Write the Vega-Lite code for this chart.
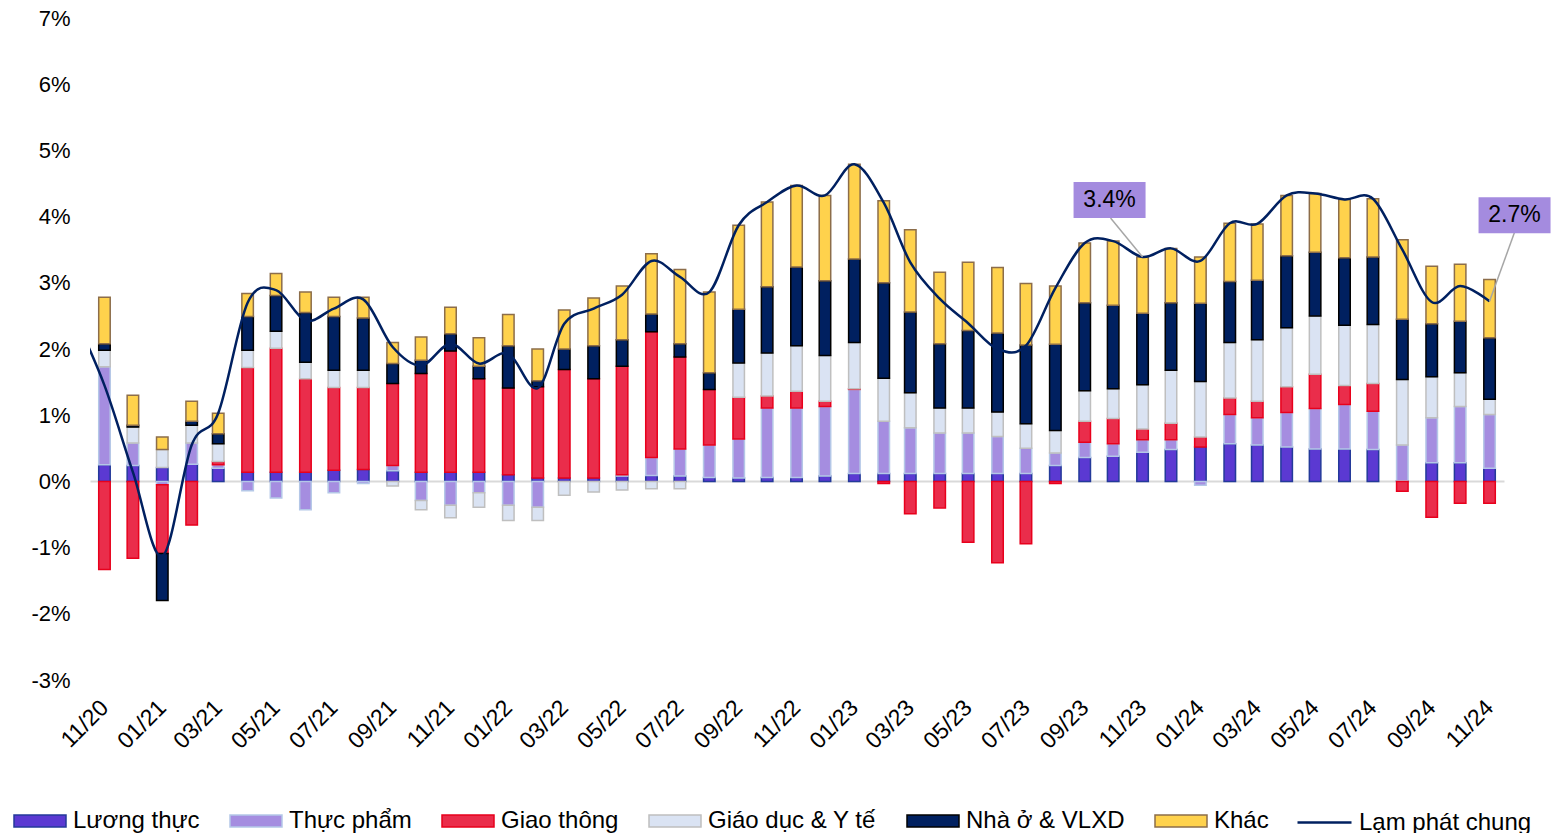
{
  "$schema": "https://vega.github.io/schema/vega-lite/v6.json",
  "width": 1414,
  "height": 662,
  "autosize": {"type": "none"},
  "padding": {"left": 90, "top": 18, "right": 53, "bottom": 153},
  "background": "white",
  "config": {"view": {"stroke": null}, "font": "Liberation Sans"},
  "datasets": {
    "cats": [
      {"cat": "Lương thực", "rank": 1},
      {"cat": "Thực phẩm", "rank": 2},
      {"cat": "Giao thông", "rank": 3},
      {"cat": "Giáo dục & Y tế", "rank": 4},
      {"cat": "Nhà ở & VLXD", "rank": 5},
      {"cat": "Khác", "rank": 6}
    ],
    "cpi": [
      {"m": "2020-10-01", "total": 2.47},
      {"m": "2020-11-01", "Lương thực": 0.25, "Thực phẩm": 1.48, "Giao thông": -1.33, "Giáo dục & Y tế": 0.25, "Nhà ở & VLXD": 0.10, "Khác": 0.70, "total": 1.45},
      {"m": "2020-12-01", "Lương thực": 0.24, "Thực phẩm": 0.34, "Giao thông": -1.16, "Giáo dục & Y tế": 0.24, "Nhà ở & VLXD": 0.03, "Khác": 0.45, "total": 0.14},
      {"m": "2021-01-01", "Lương thực": 0.21, "Thực phẩm": -0.05, "Giao thông": -1.04, "Giáo dục & Y tế": 0.27, "Nhà ở & VLXD": -0.71, "Khác": 0.19, "total": -1.13},
      {"m": "2021-02-01", "Lương thực": 0.26, "Thực phẩm": 0.32, "Giao thông": -0.66, "Giáo dục & Y tế": 0.27, "Nhà ở & VLXD": 0.06, "Khác": 0.30, "total": 0.55},
      {"m": "2021-03-01", "Lương thực": 0.20, "Thực phẩm": 0.05, "Giao thông": 0.05, "Giáo dục & Y tế": 0.27, "Nhà ở & VLXD": 0.15, "Khác": 0.31, "total": 1.03},
      {"m": "2021-04-01", "Lương thực": 0.14, "Thực phẩm": -0.14, "Giao thông": 1.58, "Giáo dục & Y tế": 0.26, "Nhà ở & VLXD": 0.51, "Khác": 0.35, "total": 2.70},
      {"m": "2021-05-01", "Lương thực": 0.14, "Thực phẩm": -0.25, "Giao thông": 1.87, "Giáo dục & Y tế": 0.26, "Nhà ở & VLXD": 0.54, "Khác": 0.33, "total": 2.89},
      {"m": "2021-06-01", "Lương thực": 0.14, "Thực phẩm": -0.43, "Giao thông": 1.41, "Giáo dục & Y tế": 0.25, "Nhà ở & VLXD": 0.75, "Khác": 0.31, "total": 2.43},
      {"m": "2021-07-01", "Lương thực": 0.17, "Thực phẩm": -0.17, "Giao thông": 1.25, "Giáo dục & Y tế": 0.26, "Nhà ở & VLXD": 0.81, "Khác": 0.29, "total": 2.61},
      {"m": "2021-08-01", "Lương thực": 0.18, "Thực phẩm": -0.03, "Giao thông": 1.24, "Giáo dục & Y tế": 0.26, "Nhà ở & VLXD": 0.79, "Khác": 0.31, "total": 2.75},
      {"m": "2021-09-01", "Lương thực": 0.16, "Thực phẩm": 0.08, "Giao thông": 1.24, "Giáo dục & Y tế": -0.07, "Nhà ở & VLXD": 0.30, "Khác": 0.32, "total": 2.03},
      {"m": "2021-10-01", "Lương thực": 0.14, "Thực phẩm": -0.29, "Giao thông": 1.49, "Giáo dục & Y tế": -0.14, "Nhà ở & VLXD": 0.20, "Khác": 0.35, "total": 1.75},
      {"m": "2021-11-01", "Lương thực": 0.14, "Thực phẩm": -0.36, "Giao thông": 1.83, "Giáo dục & Y tế": -0.19, "Nhà ở & VLXD": 0.26, "Khác": 0.40, "total": 2.08},
      {"m": "2021-12-01", "Lương thực": 0.14, "Thực phẩm": -0.17, "Giao thông": 1.41, "Giáo dục & Y tế": -0.22, "Nhà ở & VLXD": 0.19, "Khác": 0.43, "total": 1.78},
      {"m": "2022-01-01", "Lương thực": 0.10, "Thực phẩm": -0.36, "Giao thông": 1.31, "Giáo dục & Y tế": -0.23, "Nhà ở & VLXD": 0.64, "Khác": 0.47, "total": 1.93},
      {"m": "2022-02-01", "Lương thực": 0.05, "Thực phẩm": -0.39, "Giao thông": 1.38, "Giáo dục & Y tế": -0.20, "Nhà ở & VLXD": 0.09, "Khác": 0.48, "total": 1.41},
      {"m": "2022-03-01", "Lương thực": 0.05, "Thực phẩm": 0, "Giao thông": 1.64, "Giáo dục & Y tế": -0.21, "Nhà ở & VLXD": 0.31, "Khác": 0.59, "total": 2.38},
      {"m": "2022-04-01", "Lương thực": 0.05, "Thực phẩm": 0, "Giao thông": 1.50, "Giáo dục & Y tế": -0.16, "Nhà ở & VLXD": 0.50, "Khác": 0.72, "total": 2.61},
      {"m": "2022-05-01", "Lương thực": 0.08, "Thực phẩm": 0.02, "Giao thông": 1.64, "Giáo dục & Y tế": -0.13, "Nhà ở & VLXD": 0.40, "Khác": 0.81, "total": 2.82},
      {"m": "2022-06-01", "Lương thực": 0.09, "Thực phẩm": 0.27, "Giao thông": 1.90, "Giáo dục & Y tế": -0.11, "Nhà ở & VLXD": 0.27, "Khác": 0.91, "total": 3.33},
      {"m": "2022-07-01", "Lương thực": 0.08, "Thực phẩm": 0.41, "Giao thông": 1.39, "Giáo dục & Y tế": -0.11, "Nhà ở & VLXD": 0.20, "Khác": 1.12, "total": 3.09},
      {"m": "2022-08-01", "Lương thực": 0.06, "Thực phẩm": 0.49, "Giao thông": 0.84, "Giáo dục & Y tế": 0, "Nhà ở & VLXD": 0.25, "Khác": 1.22, "total": 2.86},
      {"m": "2022-09-01", "Lương thực": 0.05, "Thực phẩm": 0.59, "Giao thông": 0.63, "Giáo dục & Y tế": 0.52, "Nhà ở & VLXD": 0.81, "Khác": 1.27, "total": 3.87},
      {"m": "2022-10-01", "Lương thực": 0.06, "Thực phẩm": 1.05, "Giao thông": 0.18, "Giáo dục & Y tế": 0.65, "Nhà ở & VLXD": 1.00, "Khác": 1.28, "total": 4.22},
      {"m": "2022-11-01", "Lương thực": 0.06, "Thực phẩm": 1.05, "Giao thông": 0.25, "Giáo dục & Y tế": 0.69, "Nhà ở & VLXD": 1.19, "Khác": 1.23, "total": 4.47},
      {"m": "2022-12-01", "Lương thực": 0.08, "Thực phẩm": 1.05, "Giao thông": 0.08, "Giáo dục & Y tế": 0.69, "Nhà ở & VLXD": 1.13, "Khác": 1.29, "total": 4.32},
      {"m": "2023-01-01", "Lương thực": 0.12, "Thực phẩm": 1.27, "Giao thông": 0.01, "Giáo dục & Y tế": 0.70, "Nhà ở & VLXD": 1.26, "Khác": 1.43, "total": 4.79},
      {"m": "2023-02-01", "Lương thực": 0.12, "Thực phẩm": 0.79, "Giao thông": -0.03, "Giáo dục & Y tế": 0.65, "Nhà ở & VLXD": 1.44, "Khác": 1.24, "total": 4.21},
      {"m": "2023-03-01", "Lương thực": 0.12, "Thực phẩm": 0.69, "Giao thông": -0.49, "Giáo dục & Y tế": 0.53, "Nhà ở & VLXD": 1.22, "Khác": 1.24, "total": 3.31},
      {"m": "2023-04-01", "Lương thực": 0.12, "Thực phẩm": 0.61, "Giao thông": -0.40, "Giáo dục & Y tế": 0.38, "Nhà ở & VLXD": 0.97, "Khác": 1.08, "total": 2.76},
      {"m": "2023-05-01", "Lương thực": 0.12, "Thực phẩm": 0.61, "Giao thông": -0.92, "Giáo dục & Y tế": 0.38, "Nhà ở & VLXD": 1.17, "Khác": 1.03, "total": 2.39},
      {"m": "2023-06-01", "Lương thực": 0.12, "Thực phẩm": 0.56, "Giao thông": -1.23, "Giáo dục & Y tế": 0.37, "Nhà ở & VLXD": 1.19, "Khác": 0.99, "total": 2.00},
      {"m": "2023-07-01", "Lương thực": 0.12, "Thực phẩm": 0.38, "Giao thông": -0.94, "Giáo dục & Y tế": 0.37, "Nhà ở & VLXD": 1.19, "Khác": 0.93, "total": 2.05},
      {"m": "2023-08-01", "Lương thực": 0.24, "Thực phẩm": 0.19, "Giao thông": -0.03, "Giáo dục & Y tế": 0.34, "Nhà ở & VLXD": 1.30, "Khác": 0.88, "total": 2.92},
      {"m": "2023-09-01", "Lương thực": 0.36, "Thực phẩm": 0.23, "Giao thông": 0.32, "Giáo dục & Y tế": 0.46, "Nhà ở & VLXD": 1.33, "Khác": 0.90, "total": 3.60},
      {"m": "2023-10-01", "Lương thực": 0.38, "Thực phẩm": 0.19, "Giao thông": 0.38, "Giáo dục & Y tế": 0.45, "Nhà ở & VLXD": 1.26, "Khác": 0.97, "total": 3.63},
      {"m": "2023-11-01", "Lương thực": 0.44, "Thực phẩm": 0.19, "Giao thông": 0.16, "Giáo dục & Y tế": 0.67, "Nhà ở & VLXD": 1.08, "Khác": 0.85, "total": 3.39},
      {"m": "2023-12-01", "Lương thực": 0.48, "Thực phẩm": 0.15, "Giao thông": 0.25, "Giáo dục & Y tế": 0.80, "Nhà ở & VLXD": 1.02, "Khác": 0.82, "total": 3.52},
      {"m": "2024-01-01", "Lương thực": 0.52, "Thực phẩm": -0.06, "Giao thông": 0.15, "Giáo dục & Y tế": 0.84, "Nhà ở & VLXD": 1.18, "Khác": 0.70, "total": 3.33},
      {"m": "2024-02-01", "Lương thực": 0.57, "Thực phẩm": 0.44, "Giao thông": 0.25, "Giáo dục & Y tế": 0.84, "Nhà ở & VLXD": 0.92, "Khác": 0.88, "total": 3.90},
      {"m": "2024-03-01", "Lương thực": 0.55, "Thực phẩm": 0.41, "Giao thông": 0.25, "Giáo dục & Y tế": 0.93, "Nhà ở & VLXD": 0.90, "Khác": 0.85, "total": 3.89},
      {"m": "2024-04-01", "Lương thực": 0.52, "Thực phẩm": 0.52, "Giao thông": 0.39, "Giáo dục & Y tế": 0.89, "Nhà ở & VLXD": 1.09, "Khác": 0.91, "total": 4.32},
      {"m": "2024-05-01", "Lương thực": 0.49, "Thực phẩm": 0.61, "Giao thông": 0.52, "Giáo dục & Y tế": 0.88, "Nhà ở & VLXD": 0.96, "Khác": 0.89, "total": 4.35},
      {"m": "2024-06-01", "Lương thực": 0.49, "Thực phẩm": 0.67, "Giao thông": 0.29, "Giáo dục & Y tế": 0.91, "Nhà ở & VLXD": 1.02, "Khác": 0.88, "total": 4.26},
      {"m": "2024-07-01", "Lương thực": 0.48, "Thực phẩm": 0.58, "Giao thông": 0.42, "Giáo dục & Y tế": 0.89, "Nhà ở & VLXD": 1.02, "Khác": 0.88, "total": 4.27},
      {"m": "2024-08-01", "Lương thực": 0.01, "Thực phẩm": 0.54, "Giao thông": -0.15, "Giáo dục & Y tế": 0.99, "Nhà ở & VLXD": 0.91, "Khác": 1.20, "total": 3.50},
      {"m": "2024-09-01", "Lương thực": 0.28, "Thực phẩm": 0.68, "Giao thông": -0.54, "Giáo dục & Y tế": 0.62, "Nhà ở & VLXD": 0.80, "Khác": 0.87, "total": 2.71},
      {"m": "2024-10-01", "Lương thực": 0.28, "Thực phẩm": 0.85, "Giao thông": -0.33, "Giáo dục & Y tế": 0.51, "Nhà ở & VLXD": 0.78, "Khác": 0.86, "total": 2.95},
      {"m": "2024-11-01", "Lương thực": 0.20, "Thực phẩm": 0.81, "Giao thông": -0.33, "Giáo dục & Y tế": 0.23, "Nhà ở & VLXD": 0.93, "Khác": 0.88, "total": 2.72}
    ],
    "ann": [
      {"m": "2023-11-01", "v": 3.39, "label": "3.4%"},
      {"m": "2024-11-01", "v": 2.72, "label": "2.7%"}
    ]
  },
  "encoding": {
    "x": {
      "field": "m",
      "type": "temporal",
      "scale": {
        "type": "utc",
        "padding": 0,
        "domain": [
          {"year": 2020, "month": 10, "date": 16, "hours": 18, "utc": true},
          {"year": 2024, "month": 11, "date": 16, "hours": 6, "utc": true}
        ]
      },
      "axis": {
        "tickCount": {"interval": "month", "step": 2},
        "format": "%m/%y",
        "labelAngle": -45,
        "labelFontSize": 23,
        "labelColor": "black",
        "labelPadding": 16,
        "labelOffset": -8,
        "labelOverlap": false,
        "labelFlush": false,
        "domain": false,
        "ticks": false,
        "grid": false,
        "title": null
      }
    }
  },
  "layer": [
    {
      "data": {"name": "cpi"},
      "transform": [
        {"fold": ["Lương thực", "Thực phẩm", "Giao thông", "Giáo dục & Y tế", "Nhà ở & VLXD", "Khác"], "as": ["cat", "v"]},
        {"filter": "isValid(datum.v) && datum.v != 0"},
        {"lookup": "cat", "from": {"data": {"name": "cats"}, "key": "cat", "fields": ["rank"]}}
      ],
      "mark": {"type": "bar", "width": 11.5, "strokeWidth": 1.5},
      "encoding": {
        "y": {
          "field": "v",
          "type": "quantitative",
          "stack": "zero",
          "title": null,
          "scale": {"domain": [-3, 7], "nice": false, "zero": false},
          "axis": {
            "values": [-3, -2, -1, 0, 1, 2, 3, 4, 5, 6, 7],
            "labelExpr": "datum.value + '%'",
            "labelFontSize": 22,
            "labelColor": "black",
            "labelPadding": 20,
            "domain": false,
            "ticks": false,
            "grid": true,
            "gridColor": {"condition": {"test": "datum.value === 0", "value": "#D9D9D9"}, "value": "rgba(0,0,0,0)"},
            "gridWidth": 2,
            "title": null
          }
        },
        "order": {"field": "rank", "type": "quantitative", "sort": "ascending"},
        "fill": {
          "field": "cat",
          "type": "nominal",
          "scale": {
            "domain": ["Lương thực", "Thực phẩm", "Giao thông", "Giáo dục & Y tế", "Nhà ở & VLXD", "Khác"],
            "range": ["#5B39D2", "#A58DE0", "#EA2D4B", "#DAE3F3", "#002060", "#FFD24C"]
          },
          "legend": {
            "orient": "none", "legendX": -77, "legendY": 776, "direction": "horizontal", "columns": 6,
            "symbolType": "M-1,-0.23H1V0.23H-1Z", "symbolSize": 2704, "symbolStrokeWidth": 1.5,
            "title": null, "labelFontSize": 24, "labelFont": "Liberation Sans", "labelColor": "black",
            "labelOffset": 6, "columnPadding": 27, "padding": 0, "labelLimit": 400
          }
        },
        "stroke": {
          "field": "cat",
          "type": "nominal",
          "scale": {
            "domain": ["Lương thực", "Thực phẩm", "Giao thông", "Giáo dục & Y tế", "Nhà ở & VLXD", "Khác"],
            "range": ["#243A9A", "#B4C7E7", "#E8001C", "#BFBFBF", "#000000", "#8C6D4A"]
          },
          "legend": {
            "orient": "none", "legendX": -77, "legendY": 776, "direction": "horizontal", "columns": 6,
            "symbolType": "M-1,-0.23H1V0.23H-1Z", "symbolSize": 2704, "symbolStrokeWidth": 1.5,
            "title": null, "labelFontSize": 24, "labelFont": "Liberation Sans", "labelColor": "black",
            "labelOffset": 6, "columnPadding": 27, "padding": 0, "labelLimit": 400
          }
        }
      }
    },
    {
      "data": {"name": "cpi"},
      "mark": {"type": "line", "interpolate": "cardinal", "strokeWidth": 2.5, "clip": true},
      "encoding": {
        "y": {"field": "total", "type": "quantitative", "title": null},
        "color": {
          "datum": "Lạm phát chung",
          "type": "nominal",
          "scale": {"range": ["#002060"]},
          "legend": {
            "orient": "none", "legendX": 1206, "legendY": 776,
            "symbolType": "stroke", "symbolSize": 2916, "symbolStrokeWidth": 2.5,
            "title": null, "labelFontSize": 24, "labelFont": "Liberation Sans", "labelColor": "black",
            "labelOffset": 6, "padding": 0, "labelLimit": 400
          }
        }
      }
    },
    {
      "data": {"name": "ann"},
      "transform": [{"filter": "datum.label == '3.4%'"}],
      "layer": [
        {
          "mark": {"type": "rule", "color": "#A6A6A6", "strokeWidth": 1.5, "x2Offset": -32, "y2Offset": -39},
          "encoding": {
            "y": {"field": "v", "type": "quantitative", "title": null},
            "x2": {"field": "m"},
            "y2": {"field": "v"}
          }
        },
        {
          "mark": {"type": "point", "shape": "M-1,-0.5H1V0.5H-1Z", "size": 5184, "filled": true, "color": "#A48BDF", "opacity": 1, "xOffset": -33, "yOffset": -57},
          "encoding": {"y": {"field": "v", "type": "quantitative", "title": null}}
        },
        {
          "mark": {"type": "text", "fontSize": 23, "color": "black", "dx": -33, "dy": -57, "align": "center", "baseline": "middle", "font": "Liberation Sans"},
          "encoding": {"y": {"field": "v", "type": "quantitative", "title": null}, "text": {"field": "label"}}
        }
      ]
    },
    {
      "data": {"name": "ann"},
      "transform": [{"filter": "datum.label == '2.7%'"}],
      "layer": [
        {
          "mark": {"type": "rule", "color": "#A6A6A6", "strokeWidth": 1.5, "x2Offset": 25, "y2Offset": -69},
          "encoding": {
            "y": {"field": "v", "type": "quantitative", "title": null},
            "x2": {"field": "m"},
            "y2": {"field": "v"}
          }
        },
        {
          "mark": {"type": "point", "shape": "M-1,-0.5H1V0.5H-1Z", "size": 5184, "filled": true, "color": "#A48BDF", "opacity": 1, "xOffset": 25, "yOffset": -86},
          "encoding": {"y": {"field": "v", "type": "quantitative", "title": null}}
        },
        {
          "mark": {"type": "text", "fontSize": 23, "color": "black", "dx": 25, "dy": -86, "align": "center", "baseline": "middle", "font": "Liberation Sans"},
          "encoding": {"y": {"field": "v", "type": "quantitative", "title": null}, "text": {"field": "label"}}
        }
      ]
    }
  ]
}
